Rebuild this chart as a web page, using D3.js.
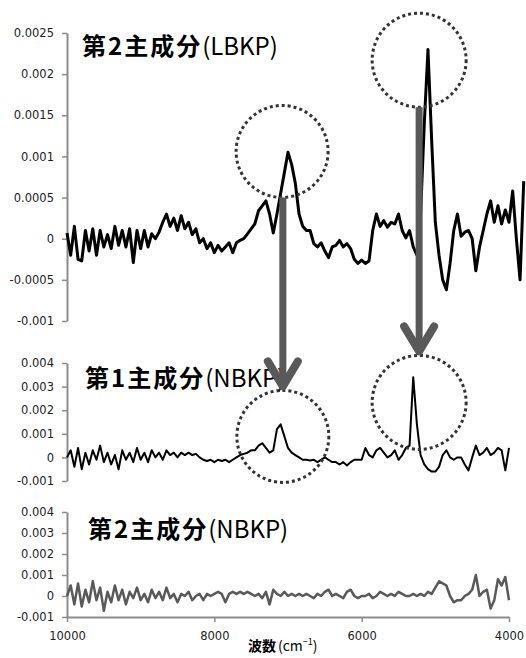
<!DOCTYPE html>
<html>
<head>
<meta charset="utf-8">
<script src="https://d3js.org/d3.v7.min.js"></script>
<style>
body { margin: 0; background: #fff; }
</style>
</head>
<body>
<div id="chart"></div>
<script>
// spectra sampled every 50 cm-1 starting at 10000 cm-1
var waveStart = 10000, waveStep = 50;

// 第2主成分 (LBKP) loadings, 10000 -> 3800 cm-1
var lbkp2 = [
  0.00007, -0.0002, 0.00015, -0.00025, -0.00027, 0.0001, -0.00015, 0.00012, -0.0002, 0.0001,
  -0.0001, 0.00005, -0.00012, 0.00015, -0.00008, 0.0001, -0.0001, 0.00012, -0.00029, 0.0001,
  -0.00012, 0.0001, -0.0001, 0.00006, 0.0, 0.00008, 0.0002, 0.0003, 0.00015, 0.00025,
  0.0001, 0.00028, 0.00012, 0.0002, 0.00005, 0.00012, -0.00005, 0.0, -0.00012, -0.00005,
  -0.00017, -0.00008, -0.00015, -0.0001, -0.00005, -0.00017, -0.00005, -0.00002, 0.0, 0.00006,
  0.00012, 0.00018, 0.00034, 0.0004, 0.00046, 0.0003, 0.00007, 0.0003, 0.00055, 0.0008,
  0.00105, 0.0009, 0.00067, 0.0003, 0.00015, 0.0001, 0.0001, -0.00006, -0.0001, -0.00005,
  -0.00015, -0.00023, -0.0001, -0.00008, -0.00002, -0.0001, -0.00006, -0.00012, -0.00025, -0.0003,
  -0.00026, -0.0003, -0.00027, 0.0001, 0.0003, 0.00015, 0.00022, 0.00014, 0.0002, 0.00018,
  0.0003, 0.0001, 0.00001, 0.0001, -0.0001, -0.0002, 0.0003, 0.0014, 0.0023, 0.0012,
  0.0002, -0.0002, -0.0005, -0.00062, -0.0003, 0.0001, 0.0003, 0.00003, 0.00008, 0.0001,
  0.0, -0.00039, -0.0001, 0.0001, 0.0003, 0.00046, 0.0002, 0.0004, 0.00018, 0.00035,
  0.0002, 0.00058, 0.0, -0.0005, 0.0007
];

// 第1主成分 (NBKP), 10000 -> 4000 cm-1
var nbkp1 = [
  0.0, 0.0003, -0.0004, 0.0004, -0.0005, 0.0002, -0.0003, 0.0003, -0.0001, 0.0005,
  -0.0002, 0.0002, -0.0003, 0.0001, -0.0005, 0.0003, -0.0001, 0.0002, -0.0002, 0.0004,
  -0.0001, 0.0002, -0.0002, 0.0003, 0.0, 0.0002, -0.0001, 0.0003, 0.0001, 0.0002,
  0.0, 0.0002, 0.0001, 0.0002, 0.0001, 0.00015, 0.0, -0.0001, -0.00015, -0.0001,
  -0.0002, -0.0001, -0.00015, -0.0001, -0.0002, -0.0001, 0.0, 0.0001, 0.00015, 0.0002,
  0.0003, 0.0003, 0.0005, 0.0006, 0.0004, 0.0002, 0.0003, 0.0012, 0.0014, 0.0009,
  0.0004, 0.0002, 0.0001, 0.0, -0.0001, -0.0001, -0.00013, -0.0001, -0.0002, -0.0001,
  0.0, -0.0001, -0.0002, -0.0002, -0.0003, -0.0002, -0.00034, -0.0002, -0.0001, -0.0001,
  -0.0001, 0.0004, 0.0001, 0.0, 0.0003, 0.0004, 0.0002, 0.0, 0.0001, 0.0003,
  -0.0001, 0.0001, 0.0004, 0.0005, 0.0034, 0.0014, 0.0001, -0.0003, -0.0005, -0.0006,
  -0.0006, -0.0004, 0.0001, 0.0003, 0.0, -0.0001, 0.0, 0.0, -0.0003, -0.00055,
  0.0, 0.0005, 0.0001, 0.0002, 0.0004, 0.0001, 0.0002, 0.0004, 0.0003, -0.00055,
  0.0004
];

// 第2主成分 (NBKP), 10000 -> 4000 cm-1
var nbkp2 = [
  0.0, 0.0005, -0.0004, 0.0006, -0.0005, 0.0003, -0.0003, 0.0007, -0.0002, 0.0004,
  -0.0007, 0.0002, -0.0003, 0.0005, -0.0002, 0.0003, -0.0004, 0.0002, -0.0001, 0.0004,
  -0.0002, 0.0001, -0.0003, 0.0003, -0.0001, 0.0002, -0.0002, 0.0004, -0.0001, 0.0001,
  -0.0003, 0.0001, 0.0, 0.0002, -0.0002, 0.0, 0.0001, -0.0002, 0.0001, 0.0,
  0.0001, 0.0002, 0.0001, -0.0003, 0.0001, 0.0002, 0.0001, 0.0002, 0.0001, 0.0002,
  0.0001, 0.0, 0.0001, -0.0001, 0.0002, -0.0004, 0.0003, 0.0001, 0.0, 0.0002,
  0.0, 0.0001, 0.0, 0.0001, 0.0, 0.0001, 0.0, -0.0001, 0.0001, 0.0,
  0.0002, 0.0003, 0.0, 0.0001, 0.0, -0.0001, 0.0002, 0.0003, 0.0, -0.0001,
  0.0, 0.0, 0.0001, -0.0001, 0.0, 0.0002, 0.0001, 0.0, 0.0001, 0.0,
  0.0002, 0.0001, 0.0, 0.0, 0.0001, 0.0, 0.0001, 0.0, 0.0002, 0.0001,
  0.0004, 0.0007, 0.0006, 0.0005, 0.0, -0.0003, -0.0002, -0.0002, 0.0, 0.0001,
  0.0003, 0.001, 0.0, 0.0002, 0.0003, -0.0006, -0.0002, 0.0008, 0.0005, 0.0009,
  -0.0002
];

var xTicks = [10000, 8000, 6000, 4000];
var yTicksTop = [-0.001, -0.0005, 0, 0.0005, 0.001, 0.0015, 0.002, 0.0025];
var yTicksSmall = [-0.001, 0, 0.001, 0.002, 0.003, 0.004];

var width = 526, height = 658;
var axisColor = "#8c8c8c";
var tickFont = "'DejaVu Sans', Verdana, sans-serif";
var cjkFont = "'Noto Sans CJK JP', sans-serif";

var svg = d3.select("#chart").append("svg")
    .attr("width", width)
    .attr("height", height);

var x = d3.scaleLinear().domain([10000, 4000]).range([67, 509]);

var panels = [
    { data: lbkp2, domain: [-0.001, 0.0025], range: [321, 33], ticks: yTicksTop,
      color: "#000", lw: 3, title: ["第2主成分", "(LBKP)"], tx: 82, ty: 55 },
    { data: nbkp1, domain: [-0.001, 0.004], range: [481, 363], ticks: yTicksSmall,
      color: "#000", lw: 2, title: ["第1主成分", "(NBKP)"], tx: 85, ty: 387 },
    { data: nbkp2, domain: [-0.001, 0.004], range: [617, 512], ticks: yTicksSmall,
      color: "#595959", lw: 2.5, title: ["第2主成分", "(NBKP)"], tx: 88, ty: 538 }
];

panels.forEach(function (p) {
    p.y = d3.scaleLinear().domain(p.domain).range(p.range);
});

function styleAxis(g) {
    g.select(".domain").attr("stroke", axisColor).attr("stroke-width", 2);
    g.selectAll(".tick line").attr("stroke", axisColor).attr("stroke-width", 1.5);
    g.selectAll(".tick text")
        .attr("fill", "#222")
        .style("font-family", tickFont)
        .style("font-size", "11.5px");
}

// y axes
panels.forEach(function (p) {
    var g = svg.append("g")
        .attr("transform", "translate(" + x.range()[0] + ",0)")
        .call(d3.axisLeft(p.y)
            .tickValues(p.ticks)
            .tickFormat(function (d) { return String(d); })
            .tickSize(5)
            .tickSizeOuter(0)
            .tickPadding(8));
    styleAxis(g);
});

// x axis only under the last panel
var gx = svg.append("g")
    .attr("transform", "translate(0," + panels[2].range[0] + ")")
    .call(d3.axisBottom(x)
        .tickValues(xTicks)
        .tickFormat(function (d) { return String(d); })
        .tickSize(5)
        .tickSizeOuter(0)
        .tickPadding(10));
styleAxis(gx);

// spectra
panels.forEach(function (p) {
    var line = d3.line()
        .x(function (d, i) { return x(waveStart - i * waveStep); })
        .y(function (d) { return p.y(d); });

    svg.append("path")
        .datum(p.data)
        .attr("d", line)
        .attr("fill", "none")
        .attr("stroke", p.color)
        .attr("stroke-width", p.lw)
        .attr("stroke-linejoin", "round");
});

// panel titles
panels.forEach(function (p) {
    var t = svg.append("text")
        .attr("x", p.tx)
        .attr("y", p.ty)
        .attr("fill", "#000")
        .style("font-family", cjkFont)
        .style("font-size", "24px");
    t.append("tspan").attr("font-weight", "bold").attr("letter-spacing", "2px").text(p.title[0]);
    t.append("tspan").attr("font-weight", "normal").text(p.title[1]);
});

// x axis title
var xt = svg.append("text")
    .attr("x", 248)
    .attr("y", 651)
    .attr("fill", "#000")
    .style("font-family", cjkFont)
    .style("font-size", "14px");
xt.append("tspan").attr("font-weight", "bold").text("波数");
xt.append("tspan").attr("dx", 2).text("(cm");
xt.append("tspan").attr("dy", -6).style("font-size", "9px").text("−1");
xt.append("tspan").attr("dy", 6).text(")");

// dotted circles round the peaks: panel index, wavenumber, loading value
var highlights = [
    { panel: 0, wave: 7080, value: 0.00106, r: 46 },
    { panel: 0, wave: 5220, value: 0.00217, r: 47 },
    { panel: 1, wave: 7070, value: 0.00089, r: 46 },
    { panel: 1, wave: 5220, value: 0.00233, r: 47 }
];
highlights.forEach(function (h) {
    h.cx = x(h.wave);
    h.cy = panels[h.panel].y(h.value);
});

svg.selectAll("circle.hl")
    .data(highlights)
    .enter().append("circle")
    .attr("class", "hl")
    .attr("cx", function (d) { return d.cx; })
    .attr("cy", function (d) { return d.cy; })
    .attr("r", function (d) { return d.r; })
    .attr("fill", "none")
    .attr("stroke", "#333")
    .attr("stroke-width", 3)
    .attr("stroke-dasharray", "3,3");

// arrows from the LBKP peaks down to the NBKP peaks
var arrows = [[0, 2], [1, 3]];
arrows.forEach(function (a) {
    var from = highlights[a[0]], to = highlights[a[1]];
    var ax = to.cx;
    var y1 = from.cy + from.r;
    var y2 = to.cy - to.r - 1;

    svg.append("line")
        .attr("x1", ax).attr("y1", y1)
        .attr("x2", ax).attr("y2", y2 - 3)
        .attr("stroke", "#595959")
        .attr("stroke-width", 7);

    svg.append("path")
        .attr("d", ["M", ax - 15, y2 - 28, "L", ax, y2 - 3, "L", ax + 15, y2 - 28].join(" "))
        .attr("fill", "none")
        .attr("stroke", "#595959")
        .attr("stroke-width", 8)
        .attr("stroke-linecap", "round")
        .attr("stroke-linejoin", "round");
});
</script>
</body>
</html>
